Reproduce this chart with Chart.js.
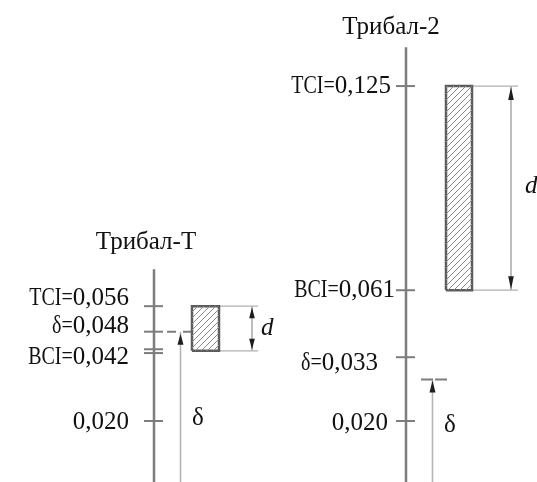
<!DOCTYPE html>
<html>
<head>
<meta charset="utf-8">
<script src="https://cdn.jsdelivr.net/npm/chart.js@4.4.1/dist/chart.umd.min.js"></script>
<style>
  html, body { margin: 0; padding: 0; background: #fff; }
  #wrap { width: 537px; height: 482px; }
</style>
</head>
<body>
<div id="wrap"><canvas id="schema" width="537" height="482"></canvas></div>
<script>
// values
const titles = ["Трибал-Т", "Трибал-2"];
const leftTicks = [0.056, 0.048, 0.0425, 0.0413, 0.020];
const leftLabels = ["TCI=0,056", "δ=0,048", "BCI=0,042", "0,020"];
const leftLabelValues = [0.056, 0.048, 0.042, 0.020];
const leftBox = [0.042, 0.056]; // BCI, TCI
const leftDelta = 0.048;
const rightTicks = [0.125, 0.061, 0.040, 0.020];
const rightLabels = ["TCI=0,125", "BCI=0,061", "δ=0,033", "0,020"];
const rightLabelValues = [0.125, 0.061, 0.040, 0.020];
const rightBox = [0.061, 0.125];
const rightDelta = 0.033;
const axisTop = [0.0676, 0.1372];

const yMin = 0.000878, yMax = 0.15198;

// hatch pattern for the boxes
function hatch() {
  const c = document.createElement("canvas");
  c.width = 6; c.height = 6;
  const g = c.getContext("2d");
  g.strokeStyle = "#8c8c8c";
  g.lineWidth = 1;
  g.beginPath();
  g.moveTo(0, 6); g.lineTo(6, 0);
  g.moveTo(-1, 1); g.lineTo(1, -1);
  g.moveTo(5, 7); g.lineTo(7, 5);
  g.stroke();
  return g.createPattern(c, "repeat");
}
const pattern = hatch();

const datasets = [];
function seg(pts, color, width, dash) {
  datasets.push({
    data: pts, showLine: true, fill: false, borderColor: color, borderWidth: width,
    borderDash: dash || [], pointRadius: 0, tension: 0, clip: false
  });
}

// one column of the scheme
function column(ax, ticks, box, delta, top, bx, extEnd, dimX, dashFrom, dashPattern, arrowX) {
  seg([{ x: ax, y: top }, { x: ax, y: yMin }], "#7d7d7d", 2.5);
  ticks.forEach(v => seg([{ x: ax - 10, y: v }, { x: ax + 9, y: v }], "#7d7d7d", 2));
  // hatched fill
  datasets.push({
    data: [{ x: bx[0], y: box[1] }, { x: bx[1], y: box[1] }], showLine: true,
    fill: { value: box[0] }, backgroundColor: pattern, borderWidth: 0, pointRadius: 0, clip: false
  });
  seg([{ x: bx[0], y: box[0] }, { x: bx[0], y: box[1] }, { x: bx[1], y: box[1] },
       { x: bx[1], y: box[0] }, { x: bx[0], y: box[0] }], "#5c5c5c", 2.5);
  // extension and dimension lines
  seg([{ x: bx[1], y: box[1] }, { x: extEnd, y: box[1] }], "#b0b0b0", 1.3);
  seg([{ x: bx[1], y: box[0] }, { x: extEnd, y: box[0] }], "#b0b0b0", 1.3);
  seg([{ x: dimX, y: box[1] }, { x: dimX, y: box[0] }], "#9a9a9a", 1.3);
  // delta level and arrow
  seg([{ x: dashFrom[0], y: delta }, { x: dashFrom[1], y: delta }], "#7d7d7d", 2, dashPattern);
  seg([{ x: arrowX, y: delta }, { x: arrowX, y: yMin }], "#b4b4b4", 1.6);
}
column(154, leftTicks, leftBox, leftDelta, axisTop[0], [192, 219], 258, 252, [167, 192], [9, 7], 180.5);
column(406, rightTicks, rightBox, rightDelta, axisTop[1], [446, 472], 518, 511, [421, 447], [12, 2], 432.5);

const serif = "'Liberation Serif', 'DejaVu Serif', serif";

const schemaText = {
  id: "schemaText",
  afterDatasetsDraw(chart) {
    const { ctx, scales: { x, y } } = chart;
    const X = v => x.getPixelForValue(v), Y = v => y.getPixelForValue(v);
    ctx.save();
    // arrowheads
    function arrow(px, py, dir, len, half) {
      ctx.fillStyle = "#1e1e1e";
      ctx.beginPath();
      ctx.moveTo(px, py);
      ctx.lineTo(px - half, py + dir * len);
      ctx.lineTo(px + half, py + dir * len);
      ctx.closePath();
      ctx.fill();
    }
    arrow(X(252), Y(leftBox[1]) + 1, 1, 11, 2.8);
    arrow(X(252), Y(leftBox[0]) - 1, -1, 11, 2.8);
    arrow(X(511), Y(rightBox[1]) + 1, 1, 13, 2.8);
    arrow(X(511), Y(rightBox[0]) - 1, -1, 13, 2.8);
    arrow(X(180.5), Y(leftDelta) + 2, 1, 11, 3);
    arrow(X(432.5), Y(rightDelta) + 1, 1, 12, 3);

    function txt(t, px, py, align, sx) {
      ctx.save();
      ctx.translate(px, py);
      ctx.scale(sx, 1);
      ctx.textAlign = align;
      ctx.fillText(t, 0, 0);
      ctx.restore();
    }
    // label: number at full width, "TCI=" prefix set a bit tighter as in the scan
    function label(t, right, py) {
      const k = t.indexOf("=");
      const num = t.slice(k + 1), pre = t.slice(0, k + 1);
      txt(num, right, py, "right", 1);
      if (k >= 0) txt(pre, right - ctx.measureText(num).width, py, "right", 0.8);
    }
    ctx.fillStyle = "#111";
    ctx.textBaseline = "middle";
    ctx.font = "25px " + serif;
    txt(titles[0], X(146), 242, "center", 1);
    txt(titles[1], X(391), 27, "center", 1);

    const leftOff = [-8, -5, 7, 1];
    leftLabels.forEach((t, i) => label(t, X(129), Y(leftLabelValues[i]) + leftOff[i]));
    const rightRight = [391, 395, 378, 388];
    const rightOff = [0, 0, 6, 2];
    rightLabels.forEach((t, i) => label(t, X(rightRight[i]), Y(rightLabelValues[i]) + rightOff[i]));

    txt("δ", X(192), Y(0.020) - 3, "left", 1);
    txt("δ", X(444), Y(0.020) + 4, "left", 1);
    ctx.font = "italic 25px " + serif;
    txt("d", X(261), Y((leftBox[0] + leftBox[1]) / 2), "left", 1);
    txt("d", X(525), Y((rightBox[0] + rightBox[1]) / 2) - 2, "left", 1);
    ctx.restore();
  }
};

new Chart(document.getElementById("schema"), {
  type: "scatter",
  data: { datasets },
  options: {
    responsive: false,
    animation: false,
    events: [],
    layout: { padding: 0 },
    plugins: { legend: { display: false }, tooltip: { enabled: false } },
    scales: {
      x: { type: "linear", min: 0, max: 537, display: false },
      y: { type: "linear", min: yMin, max: yMax, display: false }
    }
  },
  plugins: [schemaText]
});
</script>
</body>
</html>
